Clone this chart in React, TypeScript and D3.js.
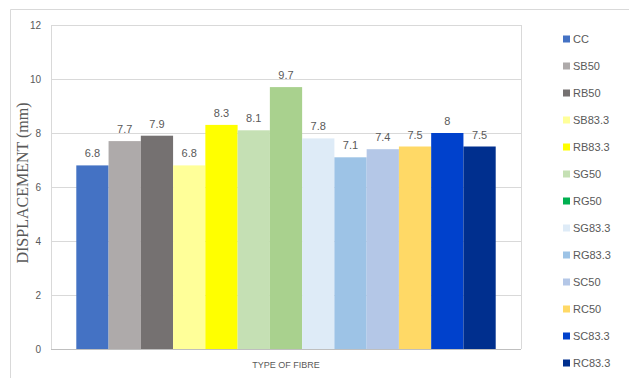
import React from "react";
import * as d3 from "d3";

const categories = ["CC", "SB50", "RB50", "SB83.3", "RB83.3", "SG50", "RG50", "SG83.3", "RG83.3", "SC50", "RC50", "SC83.3", "RC83.3"];
const values = [6.8, 7.7, 7.9, 6.8, 8.3, 8.1, 9.7, 7.8, 7.1, 7.4, 7.5, 8, 7.5];
const barColors = ["#4472C4", "#AEAAAA", "#757171", "#FFFF99", "#FFFF00", "#C5E0B4", "#A9D18E", "#DEEBF7", "#9DC3E6", "#B4C7E7", "#FFD966", "#0041CC", "#002F8E"];
const legendColors = ["#4472C4", "#AEAAAA", "#757171", "#FFFF99", "#FFFF00", "#C5E0B4", "#00B050", "#DEEBF7", "#9DC3E6", "#B4C7E7", "#FFD966", "#0041CC", "#002F8E"];
const yTicks = [0, 2, 4, 6, 8, 10, 12];
const yTitle = "DISPLACEMENT (mm)";
const xTitle = "TYPE OF FIBRE";

export default function App() {
  const W = 629, H = 378;
  const plot = { left: 51, right: 521, top: 25, bottom: 349 };
  const y = d3.scaleLinear().domain([0, 12]).range([plot.bottom, plot.top]);
  const x = d3.scaleBand().domain(categories).range([76.3, 495.7]).padding(0);
  const sans = "'Liberation Sans', Arial, sans-serif";
  const legendY = d3.scaleLinear().domain([0, 12]).range([39, 363]);

  return (
    <div style={{ position: "fixed", left: 0, top: 0 }}>
      <svg width={W} height={H} style={{ display: "block", background: "#fff" }}>
        <path d={`M10.5,${H} V9.5 H${W}`} fill="none" stroke="#D9D9D9" strokeWidth={1} />
        {yTicks.map((t) => (
          <line key={t} x1={plot.left} x2={plot.right} y1={Math.round(y(t)) + 0.5} y2={Math.round(y(t)) + 0.5}
            stroke={t === 0 ? "#BFBFBF" : "#D9D9D9"} strokeWidth={1} />
        ))}
        <line x1={plot.left + 0.5} x2={plot.left + 0.5} y1={plot.top} y2={plot.bottom} stroke="#D9D9D9" />
        <line x1={plot.right + 0.5} x2={plot.right + 0.5} y1={plot.top} y2={plot.bottom} stroke="#D9D9D9" />
        {categories.map((c, i) => (
          <rect key={c} x={x(c)} y={y(values[i])} width={x.bandwidth()} height={y(0) - y(values[i])} fill={barColors[i]} />
        ))}
        {categories.map((c, i) => (
          <text key={c} x={(x(c) as number) + x.bandwidth() / 2} y={y(values[i]) - 8} textAnchor="middle"
            fontFamily={sans} fontSize={11} fill="#595959">{values[i]}</text>
        ))}
        {yTicks.map((t) => (
          <text key={t} x={41} y={y(t)} dy="0.35em" textAnchor="end" fontFamily={sans} fontSize={10} fill="#595959">{t}</text>
        ))}
        <text transform={`translate(27.5,183) rotate(-90)`} textAnchor="middle" fontFamily="'Liberation Serif', 'Times New Roman', serif"
          fontSize={16} fill="#595959">{yTitle}</text>
        <text x={286} y={368} textAnchor="middle" fontFamily={sans} fontSize={9} fill="#595959">{xTitle}</text>
        {categories.map((c, i) => (
          <g key={c} transform={`translate(563,${legendY(i)})`}>
            <rect x={0} y={-3.5} width={7} height={7} fill={legendColors[i]} />
            <text x={10} y={0} dy="0.35em" fontFamily={sans} fontSize={11} fill="#595959">{c}</text>
          </g>
        ))}
      </svg>
    </div>
  );
}
